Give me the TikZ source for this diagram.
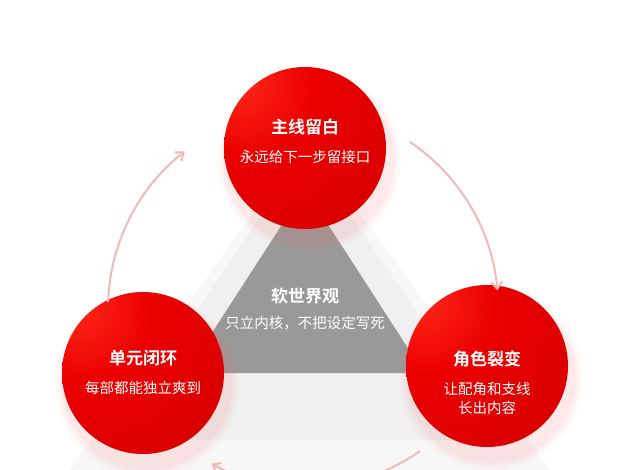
\documentclass[tikz,border=0pt]{standalone}
\usepackage{fontspec}
\setmainfont{Noto Sans CJK SC}
\newfontfamily\cjkb{Noto Sans CJK SC Bold}
\usetikzlibrary{arrows.meta}
\definecolor{pk}{HTML}{F4B8B8}
\pgfdeclareradialshading{redball}{\pgfpoint{-22bp}{22bp}}{%
  color(0bp)=(red!85!orange!90!white); color(20bp)=(red!92!black); color(45bp)=(red!85!black); color(60bp)=(red!78!black); color(100bp)=(red!70!black)}
\begin{document}
\begin{tikzpicture}[x=1pt,y=-1pt,
  ball/.style={circle,minimum size=162pt,inner sep=0pt,shading=redball,text=white,align=center},
  ttl/.style={font=\cjkb\fontsize{17}{20}\selectfont},
  sub/.style={font=\fontsize{14.5}{19}\selectfont},
  arc/.style={draw=pk,line width=2pt,-{Straight Barb[length=7pt,width=11pt,line width=2pt]}}]
\useasboundingbox (0,0) rectangle (640,470);
\fill[white] (0,0) rectangle (640,470);
% light triangle
\fill[gray!6] (305,140) -- (70,470) -- (550,470) -- cycle;
\fill[gray!12] (305,150) -- (110,440) -- (505,440) -- cycle;
% dark triangle
\fill[gray!80] (305,189) -- (186,373) -- (424,373) -- cycle;
\node[ttl,text=white] (ct) at (305,296) {软世界观};
\node[sub,text=white] (cs) at (305,323) {只立内核，不把设定写死};
% shadows
\foreach \p in {(305,152),(143,377),(487,370)}{
  \foreach \r/\o in {92/0.04,88/0.05,85/0.06}{
    \fill[red!60,opacity=\o] \p ++(4,8) circle (\r);}}
\node[ball] (top) at (305,148) {};
\node[ball] (lft) at (143,373) {};
\node[ball] (rgt) at (487,366) {};
\node[ttl,text=white] (t1) at (305,127) {主线留白};
\node[sub,text=white] (s1) at (305,157) {永远给下一步留接口};
\node[ttl,text=white] (t2) at (143,358) {单元闭环};
\node[sub,text=white] (s2) at (143,388) {每部都能独立爽到};
\node[ttl,text=white] (t3) at (487,359) {角色裂变};
\node[sub,text=white,align=center] (s3) at (487,398) {让配角和支线\\长出内容};
% arcs
\coordinate (o) at (308,295);
\draw[arc] ([shift={(178:200)}]o) arc[start angle=-178,end angle=-128,radius=200];
\draw[arc] (410,142) arc[start angle=-56,end angle=-5,radius=200];
\draw[arc] (420,451) arc[start angle=55,end angle=118,radius=200];
\end{tikzpicture}
\end{document}
